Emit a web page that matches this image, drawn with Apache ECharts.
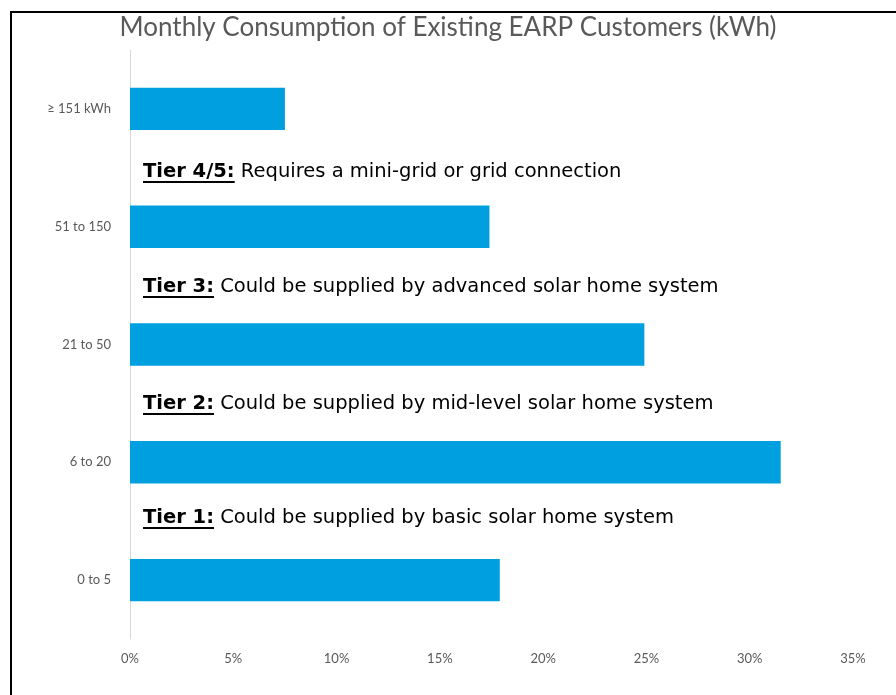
<!DOCTYPE html>
<html>
<head>
<meta charset="utf-8">
<script src="https://cdn.jsdelivr.net/npm/echarts@6/dist/echarts.min.js"></script>
<style>
  html, body { margin: 0; padding: 0; background: #fff; }
  #main { width: 896px; height: 695px; }
</style>
</head>
<body>
<div id="main"></div>
<script>
var myChart = echarts.init(document.getElementById('main'));

// bottom to top, as the category axis draws them
const categories = ['0 to 5', '6 to 20', '21 to 50', '51 to 150', '\u2265 151 kWh'];
const shares = [0.179, 0.315, 0.249, 0.174, 0.075];
const tickValues = [0, 0.05, 0.1, 0.15, 0.2, 0.25, 0.3, 0.35];

const tierHeads = ['Tier 4/5:', 'Tier 3:', 'Tier 2:', 'Tier 1:'];
const tierTexts = [
    ' Requires a mini-grid or grid connection',
    ' Could be supplied by advanced solar home system',
    ' Could be supplied by mid-level solar home system',
    ' Could be supplied by basic solar home system'
];
const tierY = [172, 287, 404, 518];

const noteFont = '"DejaVu Sans", sans-serif';
const noteSize = 19.5;

// measure the bold heads so the underline fits
const ctx = document.createElement('canvas').getContext('2d');
ctx.font = 'bold ' + noteSize + 'px ' + noteFont;

const graphics = [
    // frame lines of the original figure
    {type: 'line', shape: {x1: 10, y1: 12, x2: 896, y2: 12}, style: {stroke: '#000', lineWidth: 2}},
    {type: 'line', shape: {x1: 11, y1: 12, x2: 11, y2: 695}, style: {stroke: '#000', lineWidth: 2}}
];

tierHeads.forEach(function (head, i) {
    const w = ctx.measureText(head).width;
    graphics.push({
        type: 'text',
        x: 143,
        y: tierY[i],
        style: {
            text: '{h|' + head + '}{t|' + tierTexts[i] + '}',
            verticalAlign: 'middle',
            rich: {
                h: {fontFamily: noteFont, fontSize: noteSize, fontWeight: 'bold', fill: '#000'},
                t: {fontFamily: noteFont, fontSize: noteSize, fill: '#000'}
            }
        }
    });
    graphics.push({
        type: 'line',
        shape: {x1: 143, y1: tierY[i] + 10, x2: 143 + w, y2: tierY[i] + 10},
        style: {stroke: '#000', lineWidth: 2}
    });
});

let option = {
    animation: false,
    title: {
        text: 'Monthly Consumption of Existing EARP Customers (kWh)',
        left: 'center',
        top: 10,
        textStyle: {
            fontFamily: 'Lato',
            fontSize: 26,
            fontWeight: 'normal',
            color: '#595959'
        }
    },
    grid: {left: 130, right: 43, top: 50, bottom: 56},
    xAxis: {
        type: 'value',
        min: 0,
        max: 0.35,
        interval: 0.05,
        axisLine: {show: false},
        axisTick: {show: false},
        splitLine: {show: false},
        axisLabel: {
            margin: 13,
            fontFamily: 'Lato',
            fontSize: 13,
            color: '#595959',
            formatter: function (v) {
                return tickValues.indexOf(Math.round(v * 100) / 100) >= 0 ? Math.round(v * 100) + '%' : '';
            }
        }
    },
    yAxis: {
        type: 'category',
        data: categories,
        axisLine: {show: true, lineStyle: {color: '#d9d9d9', width: 1}},
        axisTick: {show: false},
        axisLabel: {
            margin: 19,
            fontFamily: 'Lato',
            fontSize: 13,
            color: '#595959'
        }
    },
    series: [
        {
            type: 'bar',
            data: shares,
            barWidth: '36%',
            itemStyle: {color: '#009fdf'}
        }
    ],
    graphic: graphics
};

myChart.setOption(option);
</script>
</body>
</html>
